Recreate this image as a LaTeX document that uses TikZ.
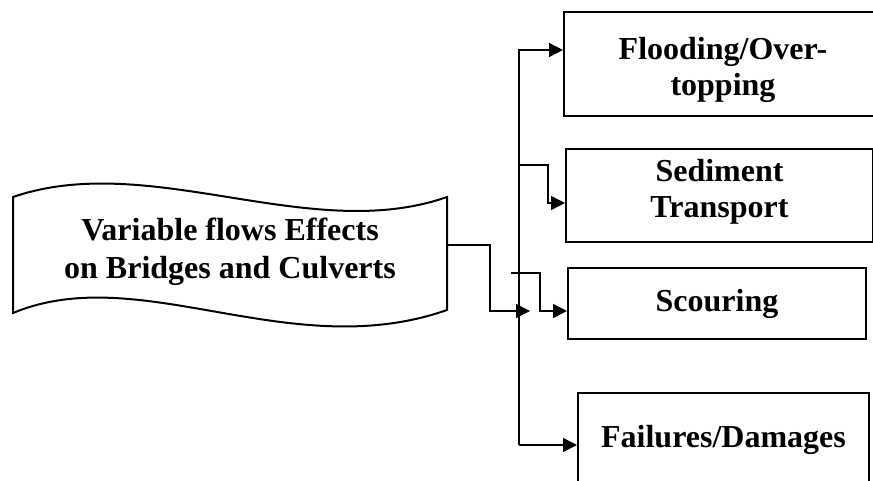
\documentclass[tikz,border=0pt]{standalone}
\usepackage{fontspec}
\setmainfont{Liberation Serif}
\usetikzlibrary{arrows.meta}
\tikzset{
  effect/.style={draw,line width=2pt,align=center,inner sep=0pt,
    font=\fontsize{32}{36}\selectfont\bfseries},
  conn/.style={line width=1.4pt},
  tip/.style={conn,-{Triangle[length=14pt,width=14pt]}}
}
\begin{document}
\begin{tikzpicture}[x=1pt,y=-1pt]
\useasboundingbox (0,0) rectangle (873,480);
\draw[line width=2pt] (13,197) .. controls (150,150) and (310,245) .. (447,197) -- (447,310)
  .. controls (290,365) and (140,260) .. (13,313) -- cycle;
\node (src) at (230,252) [align=center,font=\fontsize{32}{38}\selectfont\bfseries] {Variable flows Effects\\on Bridges and Culverts};
\node[effect,minimum width=330pt,minimum height=104pt] (flood) at (729,64) {\rule{0pt}{34pt}Flooding/Over-\hspace*{12pt}\\topping\hspace*{12pt}};
\node[effect,minimum width=307pt,minimum height=93pt] (sediment) at (719.5,195.5) {Sediment\\Transport\rule[-14pt]{0pt}{14pt}};
\node[effect,minimum width=298pt,minimum height=71pt] (scour) at (717,303.5) {\raisebox{7pt}{Scouring}};
\node[effect,minimum width=291pt,minimum height=94pt] (fail) at (723.5,440) {Failures/Damages};
\coordinate (srcout) at (447,245);
\coordinate (trunktop) at (519,50);
\coordinate (trunkbot) at (519,445);
\coordinate (feed) at (530,311);
\draw[tip] (srcout) -- (490,245) |- (feed);
\draw[tip] (trunkbot) -- (trunktop) -- (flood.west |- trunktop);
\draw[tip] (trunktop |- 0,445) -- (fail.west |- trunkbot);
\draw[tip] (trunktop |- 0,165) -| (548,203) -- (sediment.west |- 0,203);
\draw[tip] (511,273) -| (540,311) -- (scour.west |- 0,311);
\end{tikzpicture}
\end{document}
